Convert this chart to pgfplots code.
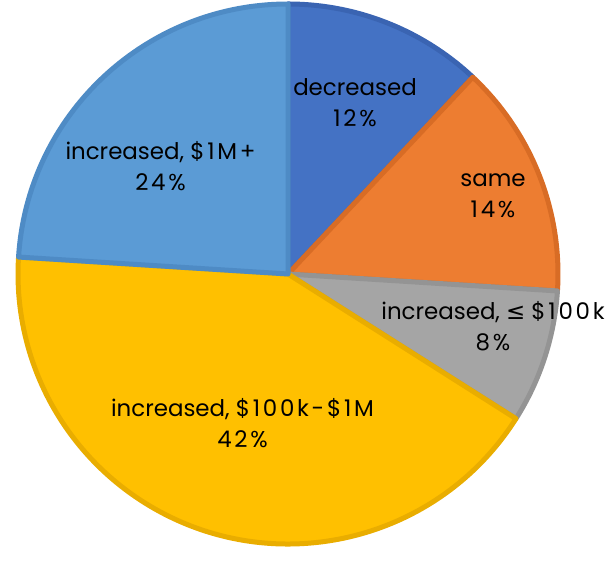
\documentclass[border=0pt]{standalone}
\usepackage{pgfplots}
\pgfplotsset{compat=1.18}
\usepackage{fontspec}
\setmainfont{Poppins}
\newfontfamily\symfont{DejaVu Sans}
\newfontfamily\numfont[LetterSpace=12]{Poppins}

\definecolor{cdec}{HTML}{4472C4}
\definecolor{cdecB}{HTML}{3A64B2}
\definecolor{csame}{HTML}{ED7D31}
\definecolor{csameB}{HTML}{D86C25}
\definecolor{csmall}{HTML}{A5A5A5}
\definecolor{csmallB}{HTML}{949494}
\definecolor{cmid}{HTML}{FFC000}
\definecolor{cmidB}{HTML}{E9AD00}
\definecolor{cbig}{HTML}{5B9BD5}
\definecolor{cbigB}{HTML}{4E8BC5}

% #1 = share before this slice (%), #2 = share of the slice (%)
\newcommand{\slice}[4]{%
  \filldraw[fill=#3, draw=#4, line width=5bp, line join=round]
    (axis cs:288,278) -- (axis cs:{288+270*cos(90-3.6*(#1))},{278+270*sin(90-3.6*(#1))})
    arc[start angle={90-3.6*(#1)}, end angle={90-3.6*(#1+#2)}, radius=270bp] -- cycle;
}

\begin{document}
\begin{tikzpicture}
\begin{axis}[
  hide axis,
  scale only axis,
  width=612bp, height=552bp,
  xmin=0, xmax=612, ymin=0, ymax=552,
  clip=false,
]
% keep the full canvas in the bounding box
\path (axis cs:0,0) rectangle (axis cs:612,552);

\slice{0}{12}{cdec}{cdecB}
\slice{12}{14}{csame}{csameB}
\slice{26}{8}{csmall}{csmallB}
\slice{34}{42}{cmid}{cmidB}
\slice{76}{24}{cbig}{cbigB}

\begin{scope}[every node/.style={align=center, text=black, font=\fontsize{23}{31}\selectfont}]
\node at (axis cs:355,449.5) {decreased\\{\numfont 12\%}};
\node at (axis cs:493,356) {same\\{\numfont 14\%}};
\node at (axis cs:493,225.5) {increased, {\symfont ≤} {\numfont\$100k}\\{\numfont 8\%}};
\node at (axis cs:242.5,128.5) {increased, {\numfont\$100k-\$1M}\\{\numfont 42\%}};
\node at (axis cs:160.5,386) {increased, {\numfont\$1M+}\\{\numfont 24\%}};
\end{scope}
\end{axis}
\end{tikzpicture}
\end{document}
